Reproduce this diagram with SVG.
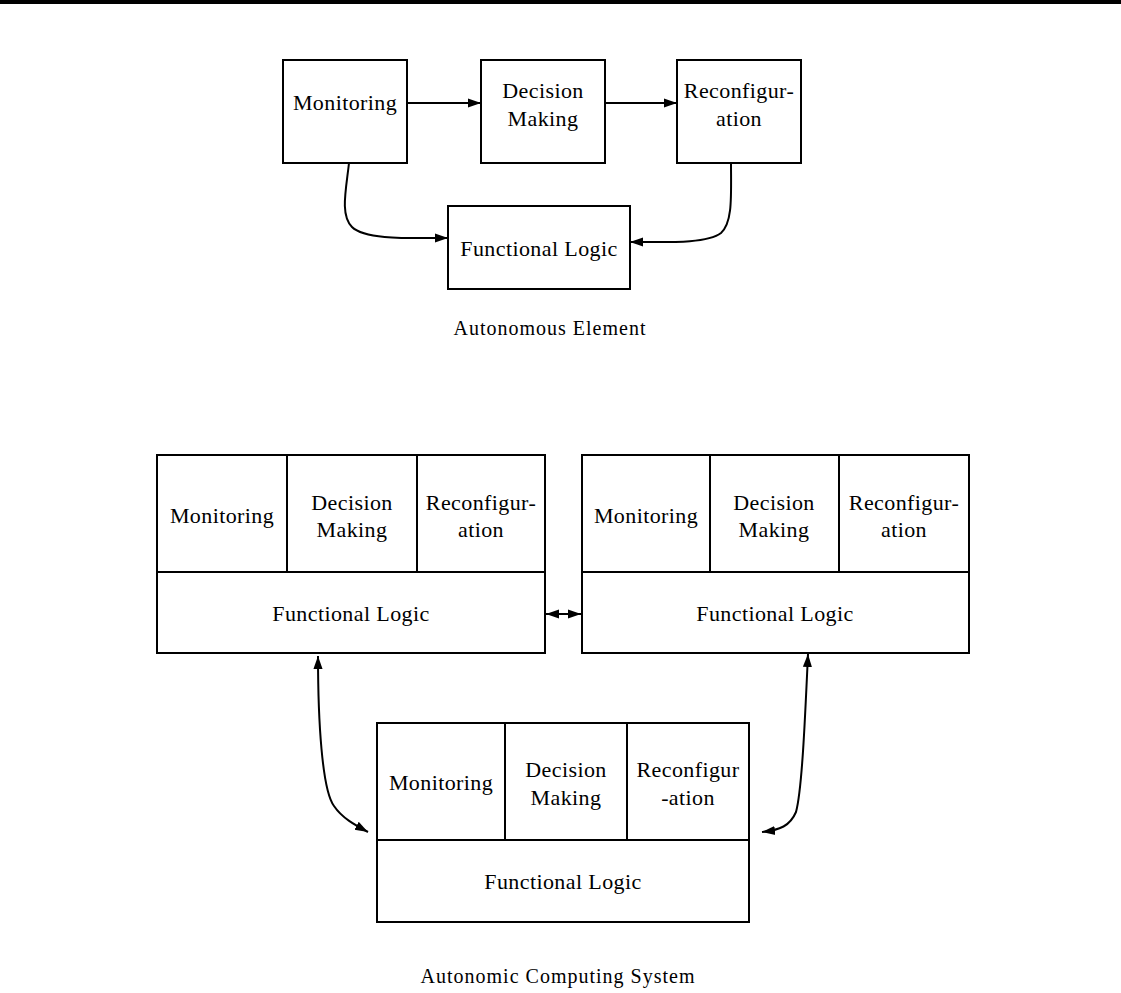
<svg xmlns="http://www.w3.org/2000/svg" width="1121" height="993" viewBox="0 0 1121 993">
<style>
.b{fill:#fff;stroke:#000;stroke-width:2}
.l{fill:none;stroke:#000;stroke-width:2}
text{font-family:"Liberation Serif","Times New Roman",serif;font-size:22px;letter-spacing:0.4px;fill:#000;text-anchor:middle}
.c{font-size:20px;letter-spacing:1px}
</style>
<defs>
<marker id="ah2" viewBox="0 0 10 10" refX="10" refY="5" markerWidth="13" markerHeight="13" markerUnits="userSpaceOnUse" orient="auto-start-reverse"><path d="M0,1.5 L10,5 L0,8.5 Z" fill="#000"/></marker>
</defs>
<rect x="0" y="0" width="1121" height="4" fill="#000"/>

<g id="ae-monitoring"><rect class="b" x="283" y="60" width="124" height="103"/><text x="345" y="110">Monitoring</text></g>
<g id="ae-decision"><rect class="b" x="481" y="60" width="124" height="103"/><text x="543" y="98">Decision</text><text x="543" y="126">Making</text></g>
<g id="ae-reconf"><rect class="b" x="677" y="60" width="124" height="103"/><text x="739" y="98">Reconfigur-</text><text x="739" y="126">ation</text></g>
<g id="ae-functional"><rect class="b" x="448" y="206" width="182" height="83"/><text x="539" y="256">Functional Logic</text></g>
<text class="c" x="550" y="335">Autonomous Element</text>

<g id="acs-left">
<rect class="b" x="157" y="455" width="388" height="198"/>
<line class="l" x1="157" y1="572" x2="545" y2="572"/>
<line class="l" x1="287" y1="455" x2="287" y2="572"/>
<line class="l" x1="417" y1="455" x2="417" y2="572"/>
<text x="222" y="523">Monitoring</text>
<text x="352" y="510">Decision</text><text x="352" y="537">Making</text>
<text x="481" y="510">Reconfigur-</text><text x="481" y="537">ation</text>
<text x="351" y="621">Functional Logic</text>
</g>
<g id="acs-right">
<rect class="b" x="582" y="455" width="387" height="198"/>
<line class="l" x1="582" y1="572" x2="969" y2="572"/>
<line class="l" x1="710" y1="455" x2="710" y2="572"/>
<line class="l" x1="839" y1="455" x2="839" y2="572"/>
<text x="646" y="523">Monitoring</text>
<text x="774" y="510">Decision</text><text x="774" y="537">Making</text>
<text x="904" y="510">Reconfigur-</text><text x="904" y="537">ation</text>
<text x="775" y="621">Functional Logic</text>
</g>
<g id="acs-bottom">
<rect class="b" x="377" y="723" width="372" height="199"/>
<line class="l" x1="377" y1="840" x2="749" y2="840"/>
<line class="l" x1="505" y1="723" x2="505" y2="840"/>
<line class="l" x1="627" y1="723" x2="627" y2="840"/>
<text x="441" y="790">Monitoring</text>
<text x="566" y="777">Decision</text><text x="566" y="805">Making</text>
<text x="688" y="777">Reconfigur</text><text x="688" y="805">-ation</text>
<text x="563" y="889">Functional Logic</text>
</g>
<text class="c" x="558" y="983">Autonomic Computing System</text>

<g id="connectors">
<line class="l" x1="407" y1="103" x2="481" y2="103" marker-end="url(#ah2)"/>
<line class="l" x1="605" y1="103" x2="677" y2="103" marker-end="url(#ah2)"/>
<path class="l" d="M349,163 C346,190 340,215 352,227 C365,240 410,238 448,238" marker-end="url(#ah2)"/>
<path class="l" d="M731,163 C731,195 733,222 721,233 C707,244 665,242 630,242" marker-end="url(#ah2)"/>
<path class="l" d="M546,614 L563,614 M563,614 L581,614" marker-start="url(#ah2)" marker-end="url(#ah2)"/>
<path class="l" d="M318,656 C318,720 322,790 334,806 C342,818 355,825 368,832" marker-start="url(#ah2)" marker-end="url(#ah2)"/>
<path class="l" d="M808,654 C805,720 802,790 796,812 C790,826 780,830 762,832" marker-start="url(#ah2)" marker-end="url(#ah2)"/>
</g>
</svg>
